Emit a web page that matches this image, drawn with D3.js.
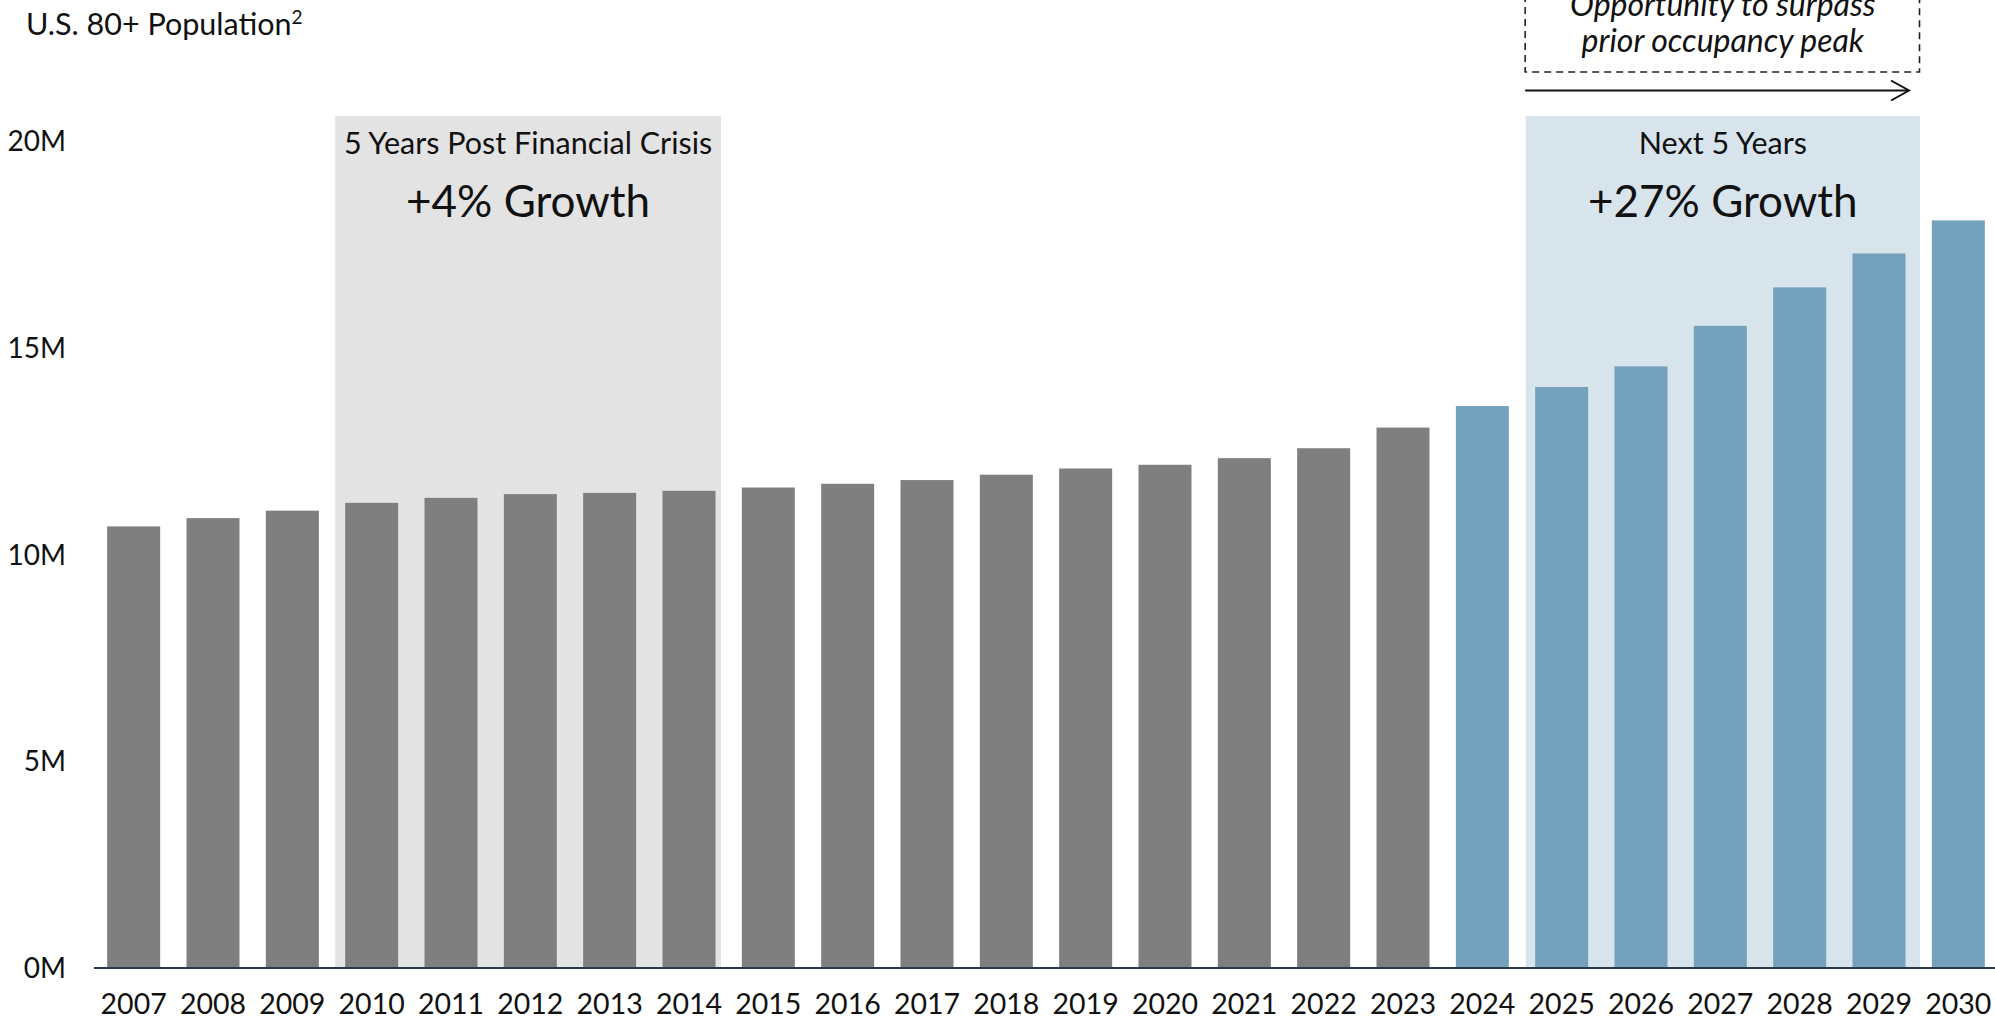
<!DOCTYPE html>
<html lang="en">
  <head>
    <meta charset="UTF-8" />
    <title>U.S. 80+ Population</title>
    <script src="https://cdn.jsdelivr.net/npm/d3@7"></script>
    <style>
      body { margin: 0; background: #fff; }
      text { font-family: Lato, "Open Sans", sans-serif; fill: #111; }
    </style>
  </head>
  <body>
    <script>
      // data (millions)
      var years = ["2007", "2008", "2009", "2010", "2011", "2012", "2013", "2014",
                   "2015", "2016", "2017", "2018", "2019", "2020", "2021", "2022",
                   "2023", "2024", "2025", "2026", "2027", "2028", "2029", "2030"];
      var population = [10.68, 10.88, 11.06, 11.25, 11.37, 11.46, 11.49, 11.54,
                        11.62, 11.71, 11.80, 11.93, 12.08, 12.17, 12.33, 12.57,
                        13.07, 13.59, 14.05, 14.55, 15.53, 16.46, 17.28, 18.08];
      var projectedFrom = "2024";
      var yTicks = [0, 5, 10, 15, 20];

      var w = 1995,
          h = 1020;

      var svg = d3.select("body").append("svg")
        .attr("width", w)
        .attr("height", h);

      var xScale = d3.scaleBand()
        .domain(years)
        .range([94, 1998])
        .paddingInner(0.332)
        .paddingOuter(0.166);

      var yScale = d3.scaleLinear()
        .domain([0, 20])
        .range([968, 141]);

      var bw = xScale.bandwidth();

      // shaded periods
      svg.append("rect")
        .attr("x", xScale("2010") - 10)
        .attr("y", 116)
        .attr("width", xScale("2014") + bw + 5.5 - (xScale("2010") - 10))
        .attr("height", yScale(0) - 116)
        .attr("fill", "#e3e3e3");

      svg.append("rect")
        .attr("x", xScale("2025") - 9.5)
        .attr("y", 116)
        .attr("width", xScale("2029") + bw + 14.5 - (xScale("2025") - 9.5))
        .attr("height", yScale(0) - 116)
        .attr("fill", "#d8e4ec");

      // bars
      svg.selectAll("rect.bar")
        .data(years)
        .enter()
        .append("rect")
        .attr("class", "bar")
        .attr("x", function(d) { return xScale(d); })
        .attr("y", function(d, i) { return yScale(population[i]); })
        .attr("width", bw)
        .attr("height", function(d, i) { return yScale(0) - yScale(population[i]); })
        .attr("fill", function(d) { return d >= projectedFrom ? "#74a1bb" : "#7f7f7f"; });

      // baseline
      svg.append("line")
        .attr("x1", 94)
        .attr("x2", w)
        .attr("y1", yScale(0))
        .attr("y2", yScale(0))
        .attr("stroke", "#2b3a46")
        .attr("stroke-width", 2);

      // y labels
      svg.selectAll("text.ylab")
        .data(yTicks)
        .enter()
        .append("text")
        .attr("class", "ylab")
        .attr("x", 66)
        .attr("y", function(d) { return yScale(d); })
        .attr("dy", "0.36em")
        .attr("text-anchor", "end")
        .style("font-size", "28px")
        .text(function(d) { return d + "M"; });

      // x labels
      svg.selectAll("text.xlab")
        .data(years)
        .enter()
        .append("text")
        .attr("class", "xlab")
        .attr("x", function(d) { return xScale(d) + bw / 2; })
        .attr("y", 1014)
        .attr("text-anchor", "middle")
        .style("font-size", "28.5px")
        .text(function(d) { return d; });

      // title
      var title = svg.append("text")
        .attr("x", 26)
        .attr("y", 35)
        .style("font-size", "30.5px");
      title.append("tspan").text("U.S. 80+ Population");
      title.append("tspan").attr("dy", -11).style("font-size", "19px").text("2");

      // period annotations
      var greyMid = (xScale("2010") - 10 + xScale("2014") + bw + 5.5) / 2;
      var blueMid = (xScale("2025") - 9.5 + xScale("2029") + bw + 14.5) / 2;

      svg.append("text")
        .attr("x", greyMid).attr("y", 154)
        .attr("text-anchor", "middle")
        .style("font-size", "30.5px")
        .text("5 Years Post Financial Crisis");
      svg.append("text")
        .attr("x", greyMid).attr("y", 217)
        .attr("text-anchor", "middle")
        .style("font-size", "44px")
        .text("+4% Growth");

      svg.append("text")
        .attr("x", blueMid).attr("y", 154)
        .attr("text-anchor", "middle")
        .style("font-size", "30.5px")
        .text("Next 5 Years");
      svg.append("text")
        .attr("x", blueMid).attr("y", 217)
        .attr("text-anchor", "middle")
        .style("font-size", "44px")
        .text("+27% Growth");

      // dashed callout + arrow
      var boxL = xScale("2025") - 10,
          boxR = xScale("2029") + bw + 14;

      svg.append("path")
        .attr("d", "M" + boxL + ",-5V72H" + boxR + "V-5")
        .attr("fill", "none")
        .attr("stroke", "#1c2430")
        .attr("stroke-width", 1.6)
        .attr("stroke-dasharray", "7,5");

      svg.append("text")
        .attr("x", blueMid).attr("y", 16)
        .attr("text-anchor", "middle")
        .style("font-size", "32px")
        .style("font-style", "italic")
        .text("Opportunity to surpass");
      svg.append("text")
        .attr("x", blueMid).attr("y", 52)
        .attr("text-anchor", "middle")
        .style("font-size", "32px")
        .style("font-style", "italic")
        .text("prior occupancy peak");

      svg.append("line")
        .attr("x1", boxL).attr("x2", 1908)
        .attr("y1", 90.5).attr("y2", 90.5)
        .attr("stroke", "#111")
        .attr("stroke-width", 2);
      svg.append("path")
        .attr("d", "M1891,80.5L1909,90.5L1891,100.5")
        .attr("fill", "none")
        .attr("stroke", "#111")
        .attr("stroke-width", 2);
    </script>
  </body>
</html>
